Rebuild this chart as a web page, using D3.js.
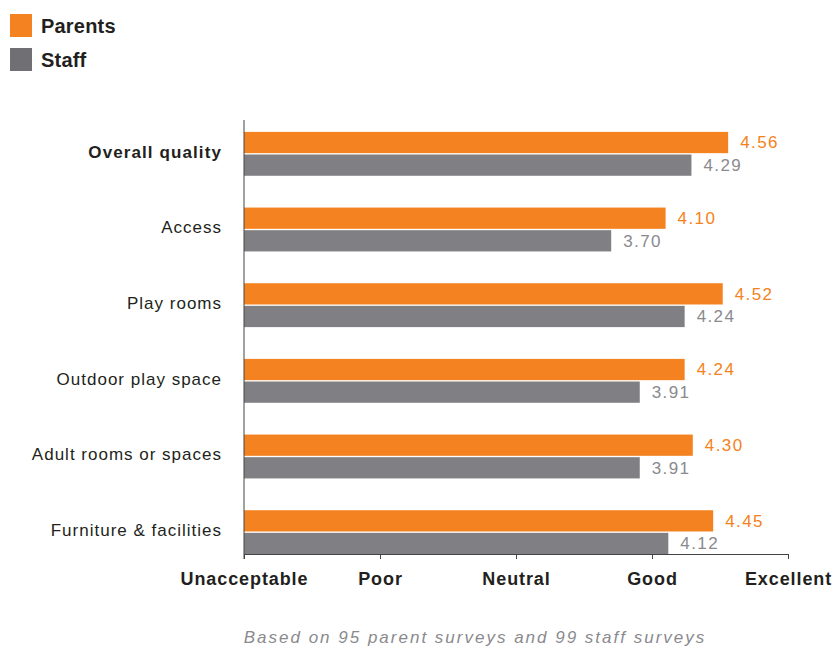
<!DOCTYPE html>
<html>
<head>
<meta charset="utf-8">
<script src="https://cdn.jsdelivr.net/npm/d3@7"></script>
<style>
  body { margin: 0; background: #fff; }
  svg { display: block; font-family: "Liberation Sans", Arial, Helvetica, sans-serif; }
</style>
</head>
<body>
<svg id="chart" width="835" height="648"></svg>
<script>
// data
const categories = ['Overall quality', 'Access', 'Play rooms', 'Outdoor play space', 'Adult rooms or spaces', 'Furniture & facilities'];
const seriesNames = ['Parents', 'Staff'];
const parents = [4.56, 4.10, 4.52, 4.24, 4.30, 4.45];
const staff = [4.29, 3.70, 4.24, 3.91, 3.91, 4.12];
const tickValues = [1, 2, 3, 4, 5];
const tickLabels = ['Unacceptable', 'Poor', 'Neutral', 'Good', 'Excellent'];
const footnote = 'Based on 95 parent surveys and 99 staff surveys';

const barColors = ['#f58220', '#808084'];
const labelColors = ['#f58220', '#8a8a8e'];

const svg = d3.select('#chart');

const x = d3.scaleLinear().domain([1, 5]).range([244, 788]);
const y = d3.scaleBand().domain(categories).range([116, 570]).paddingInner(0.42).paddingOuter(0.21);
const ySub = d3.scaleBand().domain(seriesNames).range([0, y.bandwidth()]).paddingInner(0.06);

const rows = categories.map((c, i) => ({ cat: c, values: [parents[i], staff[i]] }));

// bars
const groups = svg.append('g')
  .selectAll('g')
  .data(rows)
  .join('g')
  .attr('transform', d => `translate(0,${y(d.cat)})`);

groups.selectAll('rect')
  .data(d => d.values.map((v, j) => ({ v, s: seriesNames[j], j })))
  .join('rect')
  .attr('x', x(1))
  .attr('y', d => ySub(d.s))
  .attr('width', d => x(d.v) - x(1))
  .attr('height', ySub.bandwidth())
  .attr('fill', d => barColors[d.j]);

groups.selectAll('text.val')
  .data(d => d.values.map((v, j) => ({ v, s: seriesNames[j], j })))
  .join('text')
  .attr('class', 'val')
  .attr('x', d => x(d.v) + 12)
  .attr('y', d => ySub(d.s) + ySub.bandwidth() / 2)
  .attr('dy', '0.35em')
  .attr('font-size', '17px')
  .attr('letter-spacing', '1.4px')
  .attr('fill', d => labelColors[d.j])
  .text(d => d.v.toFixed(2));

// category labels
svg.append('g')
  .selectAll('text')
  .data(categories)
  .join('text')
  .attr('x', 222)
  .attr('y', d => y(d) + y.bandwidth() / 2 - 2)
  .attr('dy', '0.35em')
  .attr('text-anchor', 'end')
  .attr('font-size', '17px')
  .attr('letter-spacing', (d, i) => i === 0 ? '1.1px' : '1px')
  .attr('font-weight', (d, i) => i === 0 ? 'bold' : 'normal')
  .attr('fill', '#231f20')
  .text(d => d);

// axes
const xAxis = svg.append('g')
  .attr('transform', 'translate(0,554)')
  .call(d3.axisBottom(x).tickValues(tickValues).tickSize(5).tickSizeOuter(0)
    .tickFormat((d, i) => tickLabels[i]));
xAxis.select('.domain').attr('stroke', '#444');
xAxis.selectAll('.tick line').attr('stroke', '#444');
xAxis.selectAll('.tick text')
  .attr('y', 18)
  .attr('font-size', '18px')
  .attr('font-weight', 'bold')
  .attr('letter-spacing', '0.9px')
  .attr('fill', '#231f20')
  .attr('font-family', '"Liberation Sans", Arial, sans-serif');

svg.append('line')
  .attr('x1', x(1)).attr('x2', x(1))
  .attr('y1', 120).attr('y2', 559)
  .attr('stroke', '#444');

// legend
const legend = svg.append('g')
  .selectAll('g')
  .data(seriesNames)
  .join('g')
  .attr('transform', (d, i) => `translate(10,${14 + i * 34})`);
legend.append('rect')
  .attr('width', 22).attr('height', 23)
  .attr('fill', (d, i) => i === 0 ? barColors[0] : '#6f6f74');
legend.append('text')
  .attr('x', 31).attr('y', 11.5).attr('dy', '0.35em')
  .attr('font-size', '20px').attr('font-weight', 'bold')
  .attr('letter-spacing', '0.2px')
  .attr('fill', '#231f20')
  .text(d => d);

// footnote
svg.append('text')
  .attr('x', 475).attr('y', 643)
  .attr('text-anchor', 'middle')
  .attr('font-size', '17px')
  .attr('font-style', 'italic')
  .attr('letter-spacing', '2px')
  .attr('fill', '#8a8a8e')
  .text(footnote);
</script>
</body>
</html>
